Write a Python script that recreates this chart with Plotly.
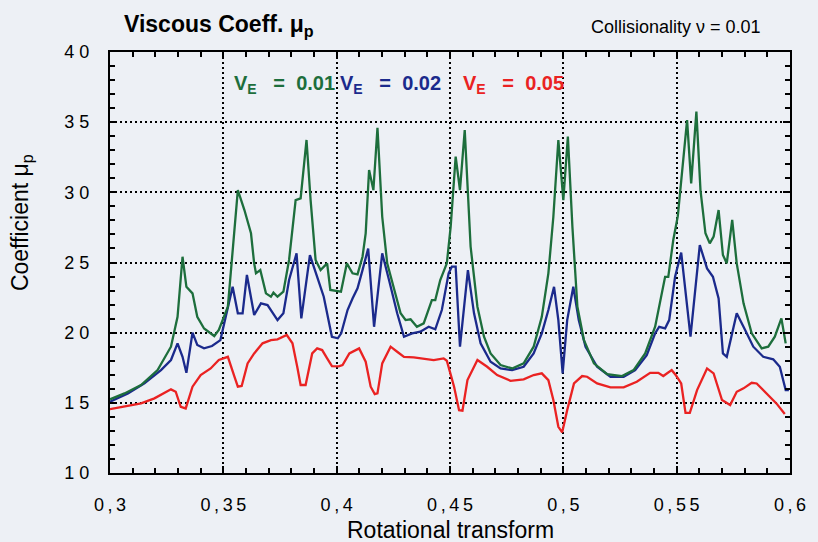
import plotly.graph_objects as go

# Viscous coefficient mu_p versus rotational transform, collisionality nu = 0.01
iota_ve001 = [0.300, 0.3064, 0.3137, 0.321, 0.3269, 0.3298, 0.332, 0.3337, 0.3364, 0.3385,
              0.3415, 0.346, 0.348, 0.352, 0.3564, 0.3593, 0.3622, 0.3636, 0.3644, 0.3663,
              0.3688, 0.371, 0.3721, 0.3739, 0.3765, 0.379, 0.3819, 0.3841, 0.3867, 0.3885,
              0.3907, 0.3929, 0.3958, 0.3972, 0.4019, 0.4045, 0.407, 0.4092, 0.4114, 0.4128,
              0.4143, 0.4162, 0.418, 0.4201, 0.4223, 0.4253, 0.4282, 0.4304, 0.4326, 0.4354,
              0.4384, 0.442, 0.4435, 0.4457, 0.4486, 0.4503, 0.4525, 0.4544, 0.4565, 0.4591,
              0.4621, 0.465, 0.4679, 0.4723, 0.4774, 0.4825, 0.4869, 0.4905, 0.4934, 0.4956,
              0.4978, 0.500, 0.502, 0.504, 0.5062, 0.5091, 0.5135, 0.5193, 0.5259, 0.531,
              0.5361, 0.5405, 0.5427, 0.5449, 0.5463, 0.5485, 0.5505, 0.5517, 0.5546, 0.5564,
              0.5587, 0.5605, 0.5627, 0.5646, 0.5663, 0.5685, 0.5704, 0.5721, 0.5745, 0.5765,
              0.5795, 0.5831, 0.5875, 0.5904, 0.5933, 0.5962, 0.5981]
mu_ve001 = [15.25, 15.67, 16.27, 17.33, 19.0, 21.13, 25.41, 23.27, 22.8, 21.13,
            20.3, 19.76, 20.19, 21.85, 30.16, 28.74, 27.08, 24.94, 24.23, 24.46,
            22.8, 22.56, 22.85, 22.56, 22.92, 25.18, 29.45, 29.57, 33.73, 29.45,
            25.18, 24.46, 24.94, 23.04, 22.92, 24.94, 24.23, 24.15, 25.41, 27.08,
            31.59, 30.16, 34.6, 28.26, 24.94, 23.04, 21.38, 20.9, 20.95, 20.42,
            20.66, 22.32, 22.32, 23.75, 24.94, 27.55, 32.54, 30.16, 34.44, 26.12,
            21.85, 19.71, 18.52, 17.69, 17.45, 17.81, 19.0, 21.13, 24.23, 28.26,
            33.73, 29.45, 33.97, 27.55, 21.85, 19.47, 17.81, 17.05, 16.91, 17.33,
            18.52, 20.42, 22.32, 23.98, 23.98, 26.6, 28.3, 30.16, 35.15, 30.64,
            35.75, 30.16, 27.08, 26.36, 26.84, 28.74, 25.53, 24.94, 28.03, 24.94,
            22.09, 19.95, 18.88, 19.0, 19.71, 21.02, 19.24]

iota_ve002 = [0.300, 0.3079, 0.3152, 0.3225, 0.3269, 0.3298, 0.332, 0.3337, 0.3364, 0.3385,
              0.3415, 0.345, 0.3487, 0.352, 0.3541, 0.3564, 0.3585, 0.3604, 0.3636, 0.3666,
              0.3695, 0.3739, 0.3765, 0.379, 0.3823, 0.3844, 0.3882, 0.3914, 0.3943, 0.3979,
              0.4005, 0.402, 0.4048, 0.407, 0.4092, 0.4114, 0.4139, 0.4165, 0.4201, 0.4231,
              0.4267, 0.4297, 0.4333, 0.4369, 0.4406, 0.4435, 0.4464, 0.4494, 0.4508, 0.4525,
              0.4544, 0.4579, 0.4606, 0.4635, 0.4679, 0.4723, 0.4774, 0.4825, 0.4869, 0.4905,
              0.4934, 0.4959, 0.4978, 0.4997, 0.5017, 0.5044, 0.5068, 0.5098, 0.5149, 0.5208,
              0.5266, 0.5317, 0.5368, 0.5405, 0.5423, 0.5449, 0.5467, 0.5493, 0.552, 0.5561,
              0.5602, 0.5634, 0.566, 0.5685, 0.5704, 0.5721, 0.5765, 0.5802, 0.5838, 0.5882,
              0.5926, 0.5955, 0.5981, 0.5995]
mu_ve002 = [15.08, 15.67, 16.39, 17.33, 18.05, 19.24, 18.28, 17.14, 20.0, 19.12,
            18.88, 19.05, 19.47, 21.85, 23.27, 21.38, 21.38, 24.11, 21.26, 22.09,
            21.97, 20.9, 21.38, 23.75, 25.65, 21.02, 25.53, 23.98, 22.56, 19.71,
            19.6, 19.95, 21.61, 22.44, 23.16, 24.46, 26.0, 20.42, 25.65, 23.75,
            21.38, 19.71, 19.95, 20.07, 20.42, 20.24, 21.61, 24.23, 24.7, 24.7,
            19.0, 24.46, 21.38, 19.24, 17.93, 17.45, 17.33, 17.57, 18.52, 19.95,
            21.61, 23.27, 20.9, 17.1, 20.9, 23.27, 20.9, 19.0, 17.57, 16.86,
            16.86, 17.33, 18.4, 19.95, 20.42, 20.31, 20.9, 23.98, 25.71, 19.71,
            26.24, 24.58, 23.98, 22.44, 18.52, 18.28, 21.38, 20.19, 19.0, 18.28,
            18.1, 17.57, 15.91, 15.91]

iota_ve005 = [0.300, 0.3064, 0.3137, 0.3196, 0.3269, 0.329, 0.3312, 0.3334, 0.3364, 0.340,
              0.3444, 0.348, 0.352, 0.3549, 0.3564, 0.3581, 0.3607, 0.3636, 0.3673, 0.371,
              0.3739, 0.378, 0.3805, 0.3826, 0.3841, 0.3863, 0.3892, 0.3914, 0.3936, 0.3958,
              0.3979, 0.4009, 0.4026, 0.4056, 0.4099, 0.4128, 0.415, 0.4168, 0.418, 0.4201,
              0.4238, 0.4267, 0.4297, 0.434, 0.4384, 0.4428, 0.4472, 0.4486, 0.4505, 0.4518,
              0.454, 0.4555, 0.4577, 0.4621, 0.4664, 0.4708, 0.4767, 0.4825, 0.4869, 0.4905,
              0.4934, 0.4956, 0.4978, 0.4995, 0.5017, 0.5047, 0.5083, 0.5105, 0.5149, 0.5208,
              0.5266, 0.5324, 0.5383, 0.5419, 0.5441, 0.5478, 0.5495, 0.552, 0.5539, 0.5558,
              0.559, 0.5634, 0.5663, 0.570, 0.5736, 0.5765, 0.5795, 0.5831, 0.5853, 0.5897,
              0.594, 0.5977]
mu_ve005 = [14.55, 14.72, 14.96, 15.32, 15.96, 15.79, 14.72, 14.6, 16.15, 16.98,
            17.45, 18.05, 18.28, 16.86, 16.15, 16.2, 17.81, 18.52, 19.24, 19.47,
            19.52, 19.83, 19.24, 17.57, 16.27, 16.27, 18.52, 18.88, 18.76, 18.17,
            17.62, 17.6, 17.69, 18.52, 18.88, 17.93, 16.15, 15.62, 15.67, 17.81,
            19.0, 18.64, 18.28, 18.24, 18.17, 18.05, 18.17, 18.0, 16.9, 16.15,
            14.48, 14.44, 16.62, 18.05, 17.57, 16.98, 16.57, 16.67, 16.98, 17.1,
            16.62, 15.2, 13.29, 12.9, 14.48, 16.38, 16.91, 16.86, 16.38, 16.1,
            16.1, 16.5, 17.14, 17.14, 16.91, 17.33, 17.0, 16.38, 14.29, 14.29,
            15.91, 17.45, 17.1, 15.2, 14.84, 15.79, 16.03, 16.43, 16.38, 15.67,
            14.96, 14.2]

x_tick_vals = [0.30, 0.35, 0.40, 0.45, 0.50, 0.55, 0.60]
x_tick_text = ["0,3", "0,35", "0,4", "0,45", "0,5", "0,55", "0,6"]
y_tick_vals = [10, 15, 20, 25, 30, 35, 40]

GREEN = "#1d6e3c"
BLUE = "#1b2a8c"
RED = "#ea2222"
BG = "#edf0f5"
FONT = "Liberation Sans, Arial, sans-serif"


def spaced(s, sep):
    return sep.join(list(s))


fig = go.Figure()
fig.add_trace(go.Scatter(x=iota_ve005, y=mu_ve005, mode="lines",
                         line=dict(color=RED, width=2.3), name="V_E = 0.05"))
fig.add_trace(go.Scatter(x=iota_ve002, y=mu_ve002, mode="lines",
                         line=dict(color=BLUE, width=2.3), name="V_E = 0.02"))
fig.add_trace(go.Scatter(x=iota_ve001, y=mu_ve001, mode="lines",
                         line=dict(color=GREEN, width=2.3), name="V_E = 0.01"))

axis_common = dict(
    showline=True, linecolor="black", linewidth=2, mirror="ticks",
    ticks="inside", ticklen=7, tickwidth=1.5, tickcolor="black",
    showgrid=True, gridcolor="black", gridwidth=2, griddash="2px,3px",
    zeroline=False,
    tickfont=dict(family=FONT, size=18, color="black"),
)

fig.update_xaxes(
    range=[0.3, 0.6], tickvals=x_tick_vals,
    ticktext=[spaced(t, "\u2009") for t in x_tick_text],
    minor=dict(dtick=0.01, tick0=0.3, ticks="inside", ticklen=5,
               tickwidth=1.5, tickcolor="black", showgrid=False),
    ticklabelstandoff=14,
    **axis_common,
)
fig.update_yaxes(
    range=[10, 40], tickvals=y_tick_vals,
    ticktext=[spaced(str(v), " ") for v in y_tick_vals],
    minor=dict(dtick=1, tick0=10, ticks="inside", ticklen=5,
               tickwidth=1.5, tickcolor="black", showgrid=False),
    ticklabelstandoff=15,
    **axis_common,
)

annotations = [
    dict(text="<b>Viscous Coeff. μ<sub>p</sub></b>", x=0.0175, y=1.062,
         xanchor="left", yanchor="middle", font=dict(family=FONT, size=23, color="black")),
    dict(text="Collisionality ν = 0.01", x=0.9606, y=1.06,
         xanchor="right", yanchor="middle", font=dict(family=FONT, size=18, color="black")),
    dict(text="Coefficient μ<sub>p</sub>", x=-0.13, y=0.595, textangle=-90,
         xanchor="center", yanchor="middle", font=dict(family=FONT, size=23, color="black")),
    dict(text="Rotational transform", x=0.5, y=-0.136,
         xanchor="center", yanchor="middle", font=dict(family=FONT, size=23, color="black")),
    dict(text="<b>V<sub>E</sub>   =  0.01</b>", x=0.18, y=0.922,
         xanchor="left", yanchor="middle", font=dict(family=FONT, size=20, color=GREEN)),
    dict(text="<b>V<sub>E</sub>   =  0.02</b>", x=0.335, y=0.922,
         xanchor="left", yanchor="middle", font=dict(family=FONT, size=20, color=BLUE)),
    dict(text="<b>V<sub>E</sub>   =  0.05</b>", x=0.516, y=0.922,
         xanchor="left", yanchor="middle", font=dict(family=FONT, size=20, color=RED)),
]
for a in annotations:
    a.update(xref="paper", yref="paper", showarrow=False)

fig.update_layout(
    width=818, height=542,
    margin=dict(l=110, r=23, t=52, b=69),
    paper_bgcolor=BG, plot_bgcolor=BG,
    showlegend=False,
    annotations=annotations,
)

fig.write_html("out.html")
